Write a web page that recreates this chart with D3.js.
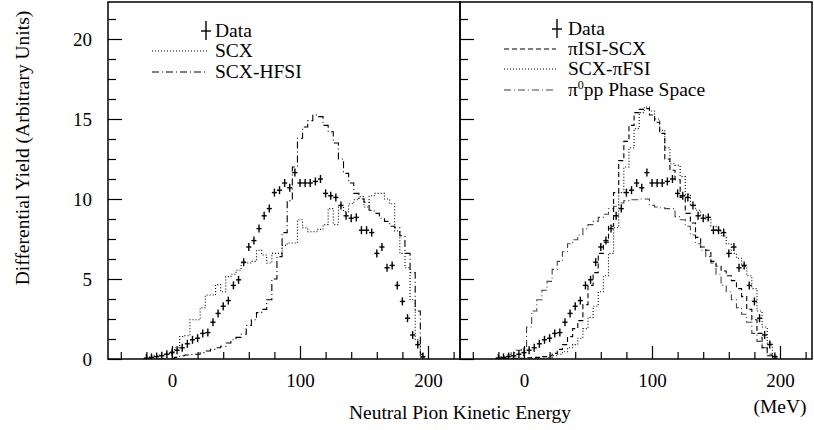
<!DOCTYPE html>
<html>
<head>
<meta charset="utf-8">
<script src="https://cdn.jsdelivr.net/npm/d3@7"></script>
<style>
body { margin: 0; background: #fff; }
text { font-family: "Liberation Serif", "Times New Roman", serif; fill: #000; }
</style>
</head>
<body>
<svg id="chart" width="814" height="430"></svg>
<script>
// bin centres (MeV), 4 MeV bins
const energy = [-20, -16, -12, -8, -4, 0, 4, 8, 12, 16, 20, 24, 28, 32, 36, 40, 44, 48, 52, 56,
    60, 64, 68, 72, 76, 80, 84, 88, 92, 96, 100, 104, 108, 112, 116, 120, 124, 128, 132, 136,
    140, 144, 148, 152, 156, 160, 164, 168, 172, 176, 180, 184, 188, 192, 196];

// measured yield (same points in both panels)
const dataYield = [0.05, 0.1, 0.15, 0.2, 0.3, 0.4, 0.55, 0.7, 0.95, 1.2, 1.3, 1.6, 1.65, 2.3, 2.85, 3.3, 3.65, 4.6, 4.95, 6.05,
    7.0, 7.4, 8.15, 8.95, 9.4, 10.4, 10.55, 11.0, 10.7, 11.65, 11.0, 11.0, 11.0, 11.1, 11.25, 10.35, 10.2, 10.1, 9.6, 8.95,
    8.8, 8.85, 8.05, 8.05, 7.9, 6.6, 7.0, 5.7, 5.85, 4.6, 3.6, 2.55, 1.5, 0.9, 0.15];
const dataErr = 0.25;

// left panel models
const scx = [0.05, 0.1, 0.2, 0.3, 0.35, 0.45, 0.7, 1.4, 1.45, 2.45, 2.45, 3.2, 4.0, 4.0, 4.65, 4.2, 5.15, 5.3, 5.55, 6.0,
    6.0, 6.1, 6.8, 6.5, 6.0, 6.6, 6.6, 7.1, 7.25, 7.25, 8.7, 8.2, 7.95, 7.95, 8.1, 8.4, 9.4, 8.4, 9.5, 9.2,
    9.7, 9.95, 10.15, 9.5, 10.2, 10.35, 10.35, 10.0, 9.7, 8.0, 6.6, 5.7, 3.7, 1.2, 0.1];
const scxHfsi = [0, 0, 0, 0, 0.02, 0.05, 0.1, 0.2, 0.25, 0.28, 0.3, 0.4, 0.5, 0.6, 0.7, 0.8, 1.0, 1.2, 1.35, 1.55,
    2.1, 2.45, 2.9, 3.1, 3.7, 5.0, 6.4, 7.9, 9.9, 12.0, 13.8, 14.5, 14.9, 15.25, 15.15, 14.6, 14.2, 13.5, 12.5, 11.6,
    11.0, 10.35, 10.0, 9.8, 9.3, 9.1, 8.8, 8.6, 8.3, 8.2, 7.7, 6.6, 5.4, 3.0, 0.3];

// right panel models
const piIsiScx = [0.05, 0.05, 0.05, 0.05, 0.05, 0.05, 0.08, 0.1, 0.1, 0.15, 0.2, 0.35, 0.6, 0.9, 1.4, 1.9, 2.4, 3.4, 4.6, 5.4,
    6.6, 7.3, 8.3, 10.4, 12.4, 13.6, 14.6, 15.4, 15.6, 15.65, 15.25, 14.8, 14.1, 12.5, 11.8, 11.2, 10.1, 9.1, 8.5, 7.6,
    7.0, 6.8, 6.1, 5.8, 5.5, 5.2, 4.9, 4.4, 3.9, 3.1, 2.45, 1.6, 0.7, 0.2, 0.05];
const scxPiFsi = [0.02, 0.02, 0.02, 0.02, 0.02, 0.02, 0.03, 0.03, 0.04, 0.05, 0.1, 0.2, 0.3, 0.45, 0.7, 0.9, 1.3, 1.9, 2.6, 3.3,
    4.2, 5.2, 6.6, 8.2, 10.4, 12.0, 13.2, 14.4, 15.4, 15.75, 15.5, 15.0, 14.3, 13.2, 12.2, 12.1, 11.4, 10.3, 9.6, 9.3,
    9.0, 8.7, 8.3, 8.0, 7.7, 7.2, 6.6, 6.3, 5.8, 5.2, 4.4, 3.0, 2.0, 1.0, 0.2];
const phaseSpace = [0.05, 0.15, 0.25, 0.4, 0.55, 0.7, 2.0, 3.0, 3.7, 4.3, 4.85, 5.6, 6.1, 6.7, 7.2, 7.45, 7.75, 8.15, 8.4, 8.6,
    8.85, 9.05, 9.4, 9.55, 9.75, 9.9, 9.95, 9.95, 10.0, 10.0, 9.6, 9.5, 9.45, 9.4, 9.4, 8.9, 8.7, 8.3, 7.75, 7.2,
    6.8, 6.4, 6.0, 5.3, 4.6, 4.2, 3.7, 3.2, 2.8, 2.3, 1.6, 1.1, 0.7, 0.3, 0.1];

const binWidth = 4;
const xMajorTicks = [0, 100, 200];
const xMinorTicks = [-40, -20, 20, 40, 60, 80, 120, 140, 160, 180, 220];
const yMajorTicks = [0, 5, 10, 15, 20];
const yMinorTicks = [1.25, 2.5, 3.75, 6.25, 7.5, 8.75, 11.25, 12.5, 13.75, 16.25, 17.5, 18.75, 21.25];

let svg = d3.select('#chart');

let plotTop = 2, plotBottom = 359;
let y = d3.scaleLinear()
    .domain([0, 22.3125])
    .range([plotBottom, plotTop]);

let DOTTED = '1,2',
    DASHED = '5,3',
    DASHDOT = '7,3,1,3';

let FONT = '19.5px';

let panels = [
    {
        x0: 108, x1: 460, labels: true,
        series: [
            {values: scx, dash: DOTTED, color: '#000'},
            {values: scxHfsi, dash: DASHDOT, color: '#000'}
        ],
        legend: {crossX: 206, textX: 215, lineX0: 152, lineX1: 208, dataY: 37,
            rows: [
                {name: 'SCX', dash: DOTTED, color: '#000', y: 57},
                {name: 'SCX-HFSI', dash: DASHDOT, color: '#000', y: 78}
            ]}
    },
    {
        x0: 460, x1: 812, labels: false,
        series: [
            {values: phaseSpace, dash: DASHDOT, color: '#444'},
            {values: piIsiScx, dash: DASHED, color: '#000'},
            {values: scxPiFsi, dash: DOTTED, color: '#000'}
        ],
        legend: {crossX: 557, textX: 568, lineX0: 504, lineX1: 556, dataY: 35,
            rows: [
                {name: 'πISI-SCX', dash: DASHED, color: '#000', y: 55},
                {name: 'SCX-πFSI', dash: DOTTED, color: '#000', y: 75},
                {name: 'phase', dash: DASHDOT, color: '#444', y: 96}
            ]}
    }
];

panels.forEach(function(p, pi) {
    let x = d3.scaleLinear()
        .domain([-50, 225])
        .range([p.x0, p.x1]);

    let g = svg.append('g');

    g.append('clipPath')
        .attr('id', 'clip' + pi)
        .append('rect')
        .attr('x', p.x0)
        .attr('y', plotTop)
        .attr('width', p.x1 - p.x0)
        .attr('height', plotBottom - plotTop);

    let plot = g.append('g').attr('clip-path', 'url(#clip' + pi + ')');

    // model histograms as step lines
    let line = d3.line()
        .x(function(d) { return x(d[0]); })
        .y(function(d) { return y(d[1]); })
        .curve(d3.curveStepAfter);

    p.series.forEach(function(s) {
        let pts = energy.map(function(e, i) { return [e - binWidth / 2, s.values[i]]; });
        pts.push([energy[energy.length - 1] + binWidth / 2, s.values[s.values.length - 1]]);
        plot.append('path')
            .datum(pts)
            .attr('d', line)
            .attr('fill', 'none')
            .attr('stroke', s.color)
            .attr('stroke-width', 1.1)
            .attr('stroke-dasharray', s.dash);
    });

    // data crosses
    let pts = plot.selectAll('g.pt')
        .data(energy.map(function(e, i) { return {e: e, v: dataYield[i]}; }))
        .enter()
        .append('g')
        .attr('class', 'pt');

    pts.append('line')
        .attr('x1', function(d) { return x(d.e - 2); })
        .attr('x2', function(d) { return x(d.e + 2); })
        .attr('y1', function(d) { return y(d.v); })
        .attr('y2', function(d) { return y(d.v); })
        .attr('stroke', '#000')
        .attr('stroke-width', 1.4);

    pts.append('line')
        .attr('x1', function(d) { return x(d.e); })
        .attr('x2', function(d) { return x(d.e); })
        .attr('y1', function(d) { return y(Math.max(0, d.v - dataErr)); })
        .attr('y2', function(d) { return y(d.v + dataErr); })
        .attr('stroke', '#000')
        .attr('stroke-width', 1.4);

    // axes
    let xMajor = d3.axisBottom(x)
        .tickValues(xMajorTicks)
        .tickSize(-13)
        .tickPadding(15)
        .tickFormat(d3.format('d'));
    let xMinor = d3.axisBottom(x)
        .tickValues(xMinorTicks)
        .tickSize(-7)
        .tickFormat('');
    let yMajor = d3.axisLeft(y)
        .tickValues(yMajorTicks)
        .tickSize(-14)
        .tickPadding(16)
        .tickFormat(p.labels ? d3.format('d') : '');
    let yMinor = d3.axisLeft(y)
        .tickValues(yMinorTicks)
        .tickSize(-8)
        .tickFormat('');

    [xMajor, xMinor].forEach(function(a) {
        g.append('g')
            .attr('transform', 'translate(0,' + plotBottom + ')')
            .call(a)
            .call(function(s) { s.select('.domain').remove(); });
    });
    [yMajor, yMinor].forEach(function(a) {
        g.append('g')
            .attr('transform', 'translate(' + p.x0 + ',0)')
            .call(a)
            .call(function(s) { s.select('.domain').remove(); });
    });

    g.selectAll('.tick line').attr('stroke', '#000').attr('stroke-width', 1.2);
    g.selectAll('.tick text')
        .style('font-family', '"Liberation Serif", "Times New Roman", serif')
        .style('font-size', '19px')
        .attr('fill', '#000');

    // frame
    g.append('rect')
        .attr('x', p.x0)
        .attr('y', plotTop)
        .attr('width', p.x1 - p.x0)
        .attr('height', plotBottom - plotTop)
        .attr('fill', 'none')
        .attr('stroke', '#000')
        .attr('stroke-width', 1.5);

    // legend
    let L = p.legend;
    g.append('line')
        .attr('x1', L.crossX).attr('x2', L.crossX)
        .attr('y1', L.dataY - 16).attr('y2', L.dataY + 3)
        .attr('stroke', '#000').attr('stroke-width', 1.4);
    g.append('line')
        .attr('x1', L.crossX - 5).attr('x2', L.crossX + 5)
        .attr('y1', L.dataY - 6).attr('y2', L.dataY - 6)
        .attr('stroke', '#000').attr('stroke-width', 1.4);
    g.append('text')
        .attr('x', L.textX)
        .attr('y', L.dataY)
        .style('font-size', FONT)
        .text('Data');

    L.rows.forEach(function(r) {
        g.append('line')
            .attr('x1', L.lineX0).attr('x2', L.lineX1)
            .attr('y1', r.y - 6).attr('y2', r.y - 6)
            .attr('stroke', r.color)
            .attr('stroke-width', 1.1)
            .attr('stroke-dasharray', r.dash);
        let t = g.append('text')
            .attr('x', L.textX)
            .attr('y', r.y)
            .style('font-size', FONT);
        if (r.name === 'phase') {
            t.append('tspan').text('π');
            t.append('tspan').attr('dy', -7).style('font-size', '12px').text('0');
            t.append('tspan').attr('dy', 7).text('pp Phase Space');
        } else {
            t.text(r.name);
        }
    });
});

// axis titles
svg.append('text')
    .attr('transform', 'translate(29,148) rotate(-90)')
    .attr('text-anchor', 'middle')
    .style('font-size', FONT)
    .text('Differential Yield (Arbitrary Units)');

svg.append('text')
    .attr('x', 460)
    .attr('y', 419)
    .attr('text-anchor', 'middle')
    .style('font-size', FONT)
    .text('Neutral Pion Kinetic Energy');

svg.append('text')
    .attr('x', 780)
    .attr('y', 413)
    .attr('text-anchor', 'middle')
    .style('font-size', FONT)
    .text('(MeV)');
</script>
</body>
</html>
